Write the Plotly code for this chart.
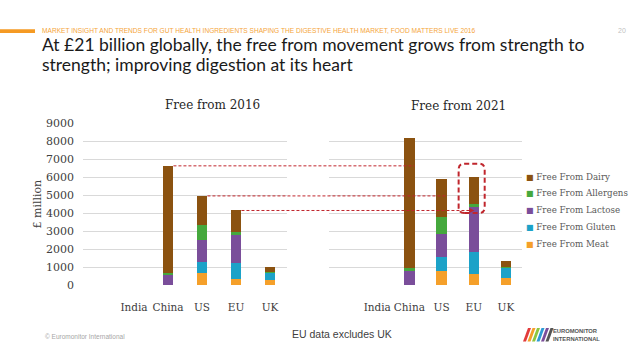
import plotly.graph_objects as go

# ---------------- data ----------------
categories = ["India", "China", "US", "EU", "UK"]
series_names = ["Free From Meat", "Free From Gluten", "Free From Lactose",
                "Free From Allergens", "Free From Dairy"]
series_colors = ["#F5A02A", "#1CA2C8", "#7A4E9A", "#45A83D", "#8B5210"]

meat_2016 = [0, 0, 680, 360, 290]
gluten_2016 = [0, 0, 590, 840, 390]
lactose_2016 = [0, 560, 1230, 1600, 40]
allergens_2016 = [0, 110, 840, 160, 20]
dairy_2016 = [0, 5950, 1610, 1180, 240]

meat_2021 = [0, 0, 800, 600, 390]
gluten_2021 = [0, 0, 750, 1210, 570]
lactose_2021 = [0, 830, 1300, 2545, 40]
allergens_2021 = [0, 90, 910, 125, 20]
dairy_2021 = [0, 7230, 2150, 1530, 330]

y_ticks = [0, 1000, 2000, 3000, 4000, 5000, 6000, 7000, 8000, 9000]

data_2016 = [meat_2016, gluten_2016, lactose_2016, allergens_2016, dairy_2016]
data_2021 = [meat_2021, gluten_2021, lactose_2021, allergens_2021, dairy_2021]

# ---------------- layout constants ----------------
W, H = 638, 359
LD = [83 / W, 287 / W]      # left plot domain
RD = [329 / W, 522 / W]     # right plot domain
YD = [1 - 289.5 / H, 1 - 121.4 / H]
XR = [-1.5, 4.5]
BW = 0.32

SERIF = "DejaVu Serif"
SANS = "Liberation Sans"
RED = "#C0262D"

fig = go.Figure()
for vals, name, col in zip(data_2016, series_names, series_colors):
    fig.add_trace(go.Bar(x=categories, y=vals, name=name, marker_color=col,
                         marker_line_width=0, width=BW, xaxis="x", yaxis="y",
                         showlegend=False))
for vals, name, col in zip(data_2021, series_names, series_colors):
    fig.add_trace(go.Bar(x=categories, y=vals, name=name, marker_color=col,
                         marker_line_width=0, width=BW, xaxis="x2", yaxis="y2",
                         showlegend=False))

axis_common = dict(showline=False, zeroline=False, ticks="", showgrid=False,
                   tickfont=dict(family=SERIF, size=10.5, color="#404040"))
yaxis_common = dict(range=[0, 9000], tickvals=y_ticks, showgrid=True,
                    gridcolor="#D9D9D9", gridwidth=1, zeroline=False,
                    showline=False, ticks="", domain=YD)

fig.update_layout(
    width=W, height=H, margin=dict(l=0, r=0, t=0, b=0),
    paper_bgcolor="white", plot_bgcolor="white",
    barmode="stack", showlegend=False,
    xaxis=dict(domain=LD, range=XR, anchor="y", ticklabelstandoff=14, **axis_common),
    xaxis2=dict(domain=RD, range=XR, anchor="y2", ticklabelstandoff=14, **axis_common),
    yaxis=dict(anchor="x", showticklabels=True, ticklabelstandoff=8,
               tickfont=dict(family=SERIF, size=11, color="#404040"), **yaxis_common),
    yaxis2=dict(anchor="x2", showticklabels=False, **yaxis_common),
)


def cat_px(domain, idx, off=0.0):
    return domain[0] + (idx - XR[0] + off) / (XR[1] - XR[0]) * (domain[1] - domain[0])


tot16 = [sum(s[i] for s in data_2016) for i in range(len(categories))]
tot21 = [sum(s[i] for s in data_2021) for i in range(len(categories))]

ann = []
shapes = []


def text(t, x, y, size, color, family, xanchor="center", **kw):
    ann.append(dict(text=t, x=x / W, y=1 - y / H, xref="paper", yref="paper",
                    xanchor=xanchor, yanchor="middle", showarrow=False,
                    font=dict(family=family, size=size, color=color), **kw))


# subplot titles
text("Free from 2016", 212, 103, 12, "#262626", SERIF)
text("Free from 2021", 458, 104, 12, "#262626", SERIF)
# y axis title
text("£ million", 38, 206, 11, "#404040", SERIF, textangle=-90)

# custom legend (top item = last series)
for k, (name, col) in enumerate(zip(series_names[::-1], series_colors[::-1])):
    text(f"<span style='color:{col};font-size:8px'>■</span> {name}",
         524, 177 + 17.5 * k, 8.7, "#595959", SERIF, xanchor="left")

# dashed comparison lines
idx_china, idx_us, idx_eu = categories.index("China"), categories.index("US"), categories.index("EU")
for idx in [idx_china, idx_us]:
    shapes.append(dict(type="line", xref="paper", yref="y",
                       x0=cat_px(LD, idx, BW / 2), x1=cat_px(RD, idx, BW / 2),
                       y0=tot16[idx], y1=tot16[idx], layer="above",
                       line=dict(color=RED, width=1, dash="3px,2px")))
shapes.append(dict(type="line", xref="paper", yref="y",
                   x0=cat_px(LD, idx_eu, BW / 2), x1=cat_px(RD, idx_eu, -0.05),
                   y0=tot16[idx_eu], y1=tot16[idx_eu], layer="above",
                   line=dict(color=RED, width=1, dash="3px,2px")))
ann.append(dict(text="", x=cat_px(RD, idx_eu, 0.02), y=tot16[idx_eu], xref="paper", yref="y",
                ax=-9, ay=0, showarrow=True, arrowhead=2, arrowsize=1, arrowwidth=1,
                arrowcolor=RED))

# rounded dashed box around EU 2021 top
x0 = cat_px(RD, idx_eu, -0.47)
x1 = cat_px(RD, idx_eu, 0.34)
y0 = tot21[idx_eu] - dairy_2021[idx_eu] - allergens_2021[idx_eu] - 360
y1 = tot21[idx_eu] + 730
rx = 6 / W
ry = 6 / ((YD[1] - YD[0]) * H) * 9000
path = (f"M{x0 + rx},{y0} L{x1 - rx},{y0} Q{x1},{y0} {x1},{y0 + ry} "
        f"L{x1},{y1 - ry} Q{x1},{y1} {x1 - rx},{y1} L{x0 + rx},{y1} "
        f"Q{x0},{y1} {x0},{y1 - ry} L{x0},{y0 + ry} Q{x0},{y0} {x0 + rx},{y0} Z")
shapes.append(dict(type="path", path=path, xref="paper", yref="y", layer="above",
                   line=dict(color=RED, width=2, dash="5px,3px")))

# header
shapes.append(dict(type="rect", xref="paper", yref="paper", x0=0, x1=35 / W,
                   y0=1 - 28 / H, y1=1 - 24 / H, fillcolor="#F59A23", line_width=0))
text("MARKET INSIGHT AND TRENDS FOR GUT HEALTH INGREDIENTS SHAPING THE DIGESTIVE HEALTH MARKET, FOOD MATTERS LIVE 2016",
     40, 25.5, 6.6, "#F5A53A", SANS, xanchor="left")
text("20", 622, 25.5, 7, "#BFBFBF", SANS)
text("At £21 billion globally, the free from movement grows from strength to",
     40, 40, 17.5, "#1A1A1A", "Lato", xanchor="left")
text("strength; improving digestion at its heart",
     40, 61.2, 17.5, "#1A1A1A", "Lato", xanchor="left")

# footer
text("© Euromonitor International", 43, 343, 6.5, "#A6A6A6", SANS, xanchor="left")
text("EU data excludes UK", 342, 340, 10.5, "#404040", SANS)
text("<b>EUROMONITOR<br>INTERNATIONAL</b>", 551, 341, 5.8, "#555555", SANS,
     xanchor="left", align="left")
stripe_cols = ["#E23B3B", "#F5A02A", "#8DC63F", "#2E9BD6", "#7A4E9A", "#555555"]
for k, c in enumerate(stripe_cols):
    xa = 523 + 4.5 * k
    yb, yt = 1 - 348 / H, 1 - 334 / H
    shapes.append(dict(type="path", xref="paper", yref="paper", fillcolor=c, line_width=0,
                       path=f"M{xa / W},{yb} L{(xa + 3) / W},{yb} L{(xa + 8) / W},{yt} L{(xa + 5) / W},{yt} Z"))

fig.update_layout(annotations=ann, shapes=shapes)
fig.write_html("out.html", config={"displayModeBar": False},
               post_script="document.body.style.margin='0';document.body.style.overflow='hidden';")
